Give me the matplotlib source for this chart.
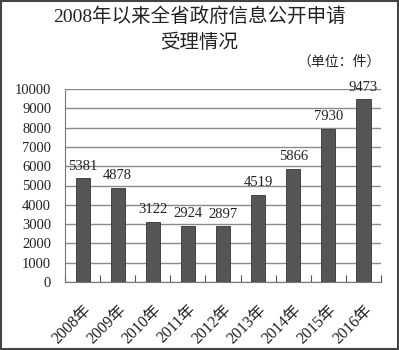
import matplotlib
matplotlib.use("Agg")
import matplotlib.pyplot as plt
from matplotlib.patches import Rectangle
import numpy as np

plt.rcParams['font.family'] = ['Liberation Serif', 'Noto Sans CJK SC']

years = ["2008年", "2009年", "2010年", "2011年", "2012年", "2013年", "2014年", "2015年", "2016年"]
requests = [5381, 4878, 3122, 2924, 2897, 4519, 5866, 7930, 9473]
y_ticks = [0, 1000, 2000, 3000, 4000, 5000, 6000, 7000, 8000, 9000, 10000]

fig = plt.figure(figsize=(3.99, 3.5), dpi=100)
ax = fig.add_axes([0.163, 0.194, 0.792, 0.552])

x = np.arange(len(years))
ax.bar(x, requests, width=0.4, color="#555555", edgecolor="#333333", linewidth=0.6, zorder=3)

for xi, v in zip(x, requests):
    ax.annotate(str(v), (xi, v), xytext=(0, 4), textcoords="offset points",
                ha="center", va="bottom", fontsize=10.5, color="#222222", zorder=4)

ax.set_xlim(-0.5, len(years) - 0.5)
ax.set_ylim(0, 10000)
ax.set_yticks(y_ticks)
ax.set_yticklabels([str(t) for t in y_ticks], fontsize=10.5, color="#222222")
ax.yaxis.grid(True, color="#8a8a8a", linewidth=1.0, zorder=0)
ax.tick_params(axis="y", length=0, pad=10)

ax.set_xticks(x)
ax.set_xticklabels(years, rotation=45, ha="right", rotation_mode="anchor",
                   fontsize=11.5, color="#222222")
ax.set_xticks(np.arange(-0.5, len(years), 1.0), minor=True)
ax.tick_params(axis="x", which="major", length=0, pad=14)
ax.tick_params(axis="x", which="minor", direction="in", length=5, color="#555555", width=0.8)

for side in ("top", "right"):
    ax.spines[side].set_visible(False)
ax.spines["left"].set_color("#777777")
ax.spines["bottom"].set_color("#777777")

fig.text(0.5, 0.952, "2008年以来全省政府信息公开申请", ha="center", va="center",
         fontsize=14, fontweight="medium", color="#222222")
fig.text(0.5, 0.877, "受理情况", ha="center", va="center", fontsize=14,
         fontweight="medium", color="#222222")
fig.text(0.955, 0.823, "（单位：件）", ha="right", va="center", fontsize=10, color="#222222")

fig.patches.append(Rectangle((0.002, 0.002), 0.996, 0.996, transform=fig.transFigure,
                             fill=False, edgecolor="#444444", linewidth=1.5))

fig.savefig("out.png", dpi=100)
